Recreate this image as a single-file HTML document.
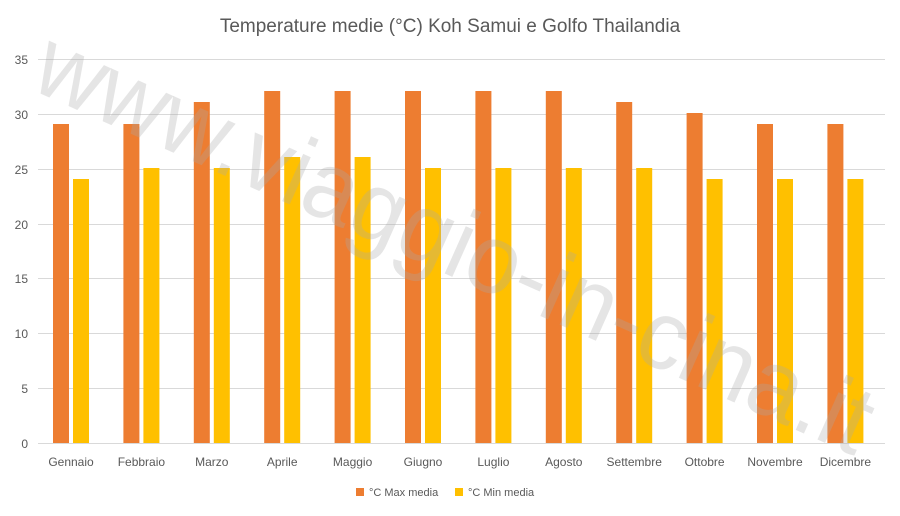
<!DOCTYPE html>
<html><head><meta charset="utf-8"><style>body{margin:0;background:#fff;overflow:hidden}svg{display:block}</style></head><body>
<svg width="900" height="516" viewBox="0 0 900 516" xmlns="http://www.w3.org/2000/svg" font-family="Liberation Sans, sans-serif">
<rect width="900" height="516" fill="#fff"/>
<text x="450" y="32" text-anchor="middle" font-size="19" fill="#595959">Temperature medie (°C) Koh Samui e Golfo Thailandia</text>
<g stroke="#d9d9d9" stroke-width="1">
<line x1="38" x2="885" y1="59.5" y2="59.5"/><line x1="38" x2="885" y1="114.5" y2="114.5"/><line x1="38" x2="885" y1="169.5" y2="169.5"/><line x1="38" x2="885" y1="224.5" y2="224.5"/><line x1="38" x2="885" y1="278.5" y2="278.5"/><line x1="38" x2="885" y1="333.5" y2="333.5"/><line x1="38" x2="885" y1="388.5" y2="388.5"/><line x1="38" x2="885" y1="443.5" y2="443.5"/>
</g>
<g font-size="12" fill="#595959" text-anchor="end">
<text x="28" y="64">35</text><text x="28" y="119">30</text><text x="28" y="174">25</text><text x="28" y="229">20</text><text x="28" y="283">15</text><text x="28" y="338">10</text><text x="28" y="393">5</text><text x="28" y="448">0</text>
</g>
<g fill="#ed7d31">
<rect x="53" y="124" width="16" height="319"/>
<rect x="123.4" y="124" width="16" height="319"/>
<rect x="193.8" y="102" width="16" height="341"/>
<rect x="264.2" y="91" width="16" height="352"/>
<rect x="334.6" y="91" width="16" height="352"/>
<rect x="405" y="91" width="16" height="352"/>
<rect x="475.4" y="91" width="16" height="352"/>
<rect x="545.8" y="91" width="16" height="352"/>
<rect x="616.2" y="102" width="16" height="341"/>
<rect x="686.6" y="113" width="16" height="330"/>
<rect x="757" y="124" width="16" height="319"/>
<rect x="827.4" y="124" width="16" height="319"/>
</g>
<g fill="#ffc000">
<rect x="73" y="179" width="16" height="264"/>
<rect x="143.4" y="168" width="16" height="275"/>
<rect x="213.8" y="168" width="16" height="275"/>
<rect x="284.2" y="157" width="16" height="286"/>
<rect x="354.6" y="157" width="16" height="286"/>
<rect x="425" y="168" width="16" height="275"/>
<rect x="495.4" y="168" width="16" height="275"/>
<rect x="565.8" y="168" width="16" height="275"/>
<rect x="636.2" y="168" width="16" height="275"/>
<rect x="706.6" y="179" width="16" height="264"/>
<rect x="777" y="179" width="16" height="264"/>
<rect x="847.4" y="179" width="16" height="264"/>
</g>
<g font-size="12" fill="#595959" text-anchor="middle">
<text x="71" y="466">Gennaio</text><text x="141.4" y="466">Febbraio</text><text x="211.8" y="466">Marzo</text><text x="282.2" y="466">Aprile</text><text x="352.6" y="466">Maggio</text><text x="423" y="466">Giugno</text><text x="493.4" y="466">Luglio</text><text x="563.8" y="466">Agosto</text><text x="634.2" y="466">Settembre</text><text x="704.6" y="466">Ottobre</text><text x="775" y="466">Novembre</text><text x="845.4" y="466">Dicembre</text>
</g>
<rect x="356" y="488" width="8" height="8" fill="#ed7d31"/><text x="369" y="496" font-size="11" fill="#595959">°C Max media</text>
<rect x="455" y="488" width="8" height="8" fill="#ffc000"/><text x="468" y="496" font-size="11" fill="#595959">°C Min media</text>
<text transform="translate(28,88) rotate(24)" font-size="98" fill="#aaa" fill-opacity="0.3" textLength="905" lengthAdjust="spacingAndGlyphs">www.viaggio-in-cina.it</text>
</svg>
</body></html>
